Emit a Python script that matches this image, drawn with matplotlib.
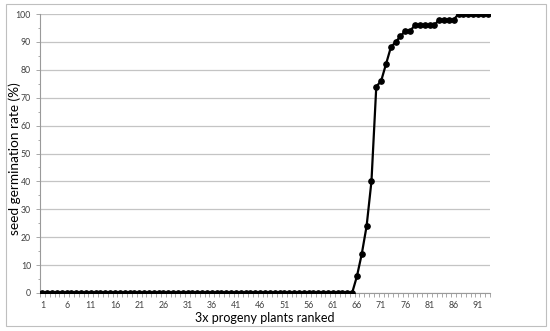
import matplotlib
matplotlib.use("Agg")
import matplotlib.pyplot as plt
from matplotlib.patches import Rectangle
import numpy as np

plants = list(range(1, 94))
germination = [0] * 65 + [6, 14, 24, 40, 74, 76, 82, 88, 90, 92, 94, 94,
                          96, 96, 96, 96, 96, 98, 98, 98, 98,
                          100, 100, 100, 100, 100, 100, 100]
x_ticks = list(range(1, 94, 5))
y_ticks = list(range(0, 101, 10))

plt.rcParams['font.family'] = ['Lato', 'DejaVu Sans']

fig = plt.figure(figsize=(5.5, 3.31), dpi=100)
fig.patches.append(Rectangle((6/550, 1-326/331), 540/550, 322/331, transform=fig.transFigure,
                             fill=False, edgecolor='#bfbfbf', linewidth=0.8))
ax = fig.add_axes([40/550, 1-293/331, 450/550, 279/331])

ax.plot(plants, germination, color='black', linewidth=1.6, marker='o', markersize=3.8, zorder=3)

ax.set_xlim(0.5, 93.5)
ax.set_ylim(0, 100)
ax.set_xticks(x_ticks)
ax.set_xticklabels([str(t) for t in x_ticks], fontsize=6.3, color='#404040')
ax.set_xticks(np.arange(0.5, 94, 1), minor=True)
ax.set_yticks(y_ticks)
ax.set_yticklabels([str(t) for t in y_ticks], fontsize=6.3, color='#404040')
ax.set_yticks(np.arange(5, 100, 10), minor=True)
ax.tick_params(axis='x', which='major', length=0, pad=6)
ax.tick_params(axis='x', which='minor', length=3, color='#9a9a9a', width=0.6)
ax.tick_params(axis='y', which='major', length=3, color='#9a9a9a', width=0.6, pad=3.5)
ax.tick_params(axis='y', which='minor', length=1.5, color='#9a9a9a', width=0.6)

ax.grid(axis='y', which='major', color='#c4c4c4', linewidth=0.9)
ax.set_axisbelow(True)
for s in ['top', 'right']:
    ax.spines[s].set_visible(False)
for s in ['left', 'bottom']:
    ax.spines[s].set_color('#9a9a9a')
    ax.spines[s].set_linewidth(0.8)

fig.text(265/550, 1-318/331, '3x progeny plants ranked', fontsize=9.0,
         ha='center', va='center')
fig.text(15/550, 1-159/331, 'seed germination rate (%)', fontsize=9.8,
         rotation=90, ha='center', va='center')

fig.savefig('out.png', dpi=100)
